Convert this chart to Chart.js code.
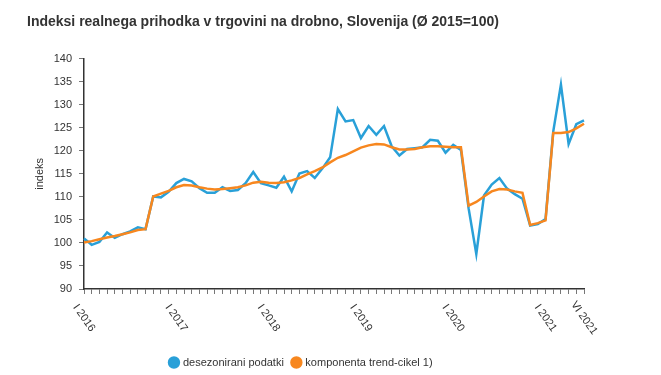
<!DOCTYPE html>
<html>
<head>
<meta charset="utf-8">
<script src="https://cdn.jsdelivr.net/npm/chart.js@4"></script>
<style>
  html, body { margin: 0; padding: 0; background: #fff; }
  #wrap { width: 661px; height: 375px; }
</style>
</head>
<body>
<div id="wrap"><canvas id="chart" width="661" height="375"></canvas></div>
<script>
// --- Data ---
const MONTHS = ['I', 'II', 'III', 'IV', 'V', 'VI', 'VII', 'VIII', 'IX', 'X', 'XI', 'XII'];
const YEARS = [2016, 2017, 2018, 2019, 2020, 2021];
const SHOWN_LABELS = ['I 2016', 'I 2017', 'I 2018', 'I 2019', 'I 2020', 'I 2021', 'VI 2021'];

const seasonAdjusted = [
  101.0, 99.6, 100.2, 102.3, 101.1, 101.9, 102.5, 103.4, 103.0, 110.1, 109.9, 111.1,
  113.0, 113.9, 113.4, 111.9, 110.9, 110.9, 112.1, 111.3, 111.5, 113.0, 115.4, 113.0,
  112.5, 112.0, 114.4, 111.2, 115.1, 115.6, 114.1, 116.2, 118.6, 129.1, 126.4, 126.7,
  122.8, 125.4, 123.5, 125.4, 121.0, 119.0, 120.4, 120.6, 120.8, 122.4, 122.2, 119.6,
  121.3, 120.2, 107.5, 97.6, 110.3, 112.7, 114.1, 111.8, 110.6, 109.6, 103.8, 104.1,
  105.2, 124.2, 134.4, 121.5, 125.8, 126.6
];
const trendCycle = [
  100.1, 100.4, 100.8, 101.2, 101.5, 101.9, 102.3, 102.8, 103.0, 110.1, 110.7, 111.3,
  112.1, 112.6, 112.5, 112.1, 111.8, 111.6, 111.7, 111.9, 112.1, 112.5, 113.1, 113.3,
  113.1, 113.0, 113.2, 113.6, 114.1, 114.9, 115.6, 116.4, 117.5, 118.5, 119.1, 119.9,
  120.7, 121.2, 121.5, 121.4, 120.8, 120.3, 120.3, 120.4, 120.8, 121.0, 121.0, 120.9,
  120.8, 120.8, 108.1, 108.9, 110.1, 111.2, 111.7, 111.6, 111.2, 110.9, 103.9, 104.3,
  104.9, 123.9, 123.9, 124.1, 124.9, 125.9
];

const BLUE = '#29a0d8';
const ORANGE = '#f7871f';
const TEXT = '#333333';
const FONT = "'Liberation Sans', Arial, sans-serif";

const labels = [];
YEARS.forEach((y) => MONTHS.forEach((m) => labels.push(m + ' ' + y)));
labels.length = seasonAdjusted.length;

// --- Rotated x labels (clockwise, centred on the tick) ---
const xLabelPlugin = {
  id: 'xLabels',
  afterLayout(chart) {
    // legend sits a little left of centre in the original
    chart.legend.left -= 4;
    chart.legend.right -= 4;
  },
  afterDraw(chart) {
    const scale = chart.scales.x;
    const ctx = chart.ctx;
    ctx.save();
    ctx.font = '11px ' + FONT;
    ctx.fillStyle = TEXT;
    ctx.textAlign = 'center';
    ctx.textBaseline = 'middle';
    labels.forEach((lab, i) => {
      if (!SHOWN_LABELS.includes(lab)) return;
      ctx.save();
      ctx.translate(scale.getPixelForValue(i), scale.top + 29);
      ctx.rotate(55 * Math.PI / 180);
      ctx.fillText(lab, 0, 0);
      ctx.restore();
    });
    ctx.restore();
  },
};

new Chart(document.getElementById('chart'), {
  type: 'line',
  data: {
    labels,
    datasets: [
      {
        label: 'desezonirani podatki',
        data: seasonAdjusted,
        borderColor: BLUE,
        backgroundColor: BLUE,
        borderWidth: 2.5,
        pointRadius: 0,
        tension: 0,
        order: 1,
      },
      {
        label: 'komponenta trend-cikel 1)',
        data: trendCycle,
        borderColor: ORANGE,
        backgroundColor: ORANGE,
        borderWidth: 2.5,
        pointRadius: 0,
        tension: 0,
        order: 0,
      },
    ],
  },
  options: {
    responsive: false,
    animation: false,
    layout: { padding: { top: 0, left: 27, right: 77, bottom: -3 } },
    plugins: {
      title: {
        display: true,
        text: 'Indeksi realnega prihodka v trgovini na drobno, Slovenija (Ø 2015=100)',
        align: 'start',
        color: TEXT,
        font: { family: FONT, size: 14, weight: 'bold' },
        padding: { top: 14, bottom: 28 },
      },
      legend: {
        position: 'bottom',
        labels: {
          usePointStyle: true,
          pointStyle: 'circle',
          boxHeight: 7,
          boxWidth: 7,
          padding: 9,
          color: TEXT,
          font: { family: FONT, size: 11 },
          sort: (a, b) => a.datasetIndex - b.datasetIndex,
        },
      },
      tooltip: { enabled: false },
    },
    scales: {
      x: {
        grid: { drawOnChartArea: false, drawTicks: true, tickLength: 5, color: '#777' },
        border: { color: '#333', width: 1.5 },
        ticks: { display: false, autoSkip: false },
        afterFit: (scale) => { scale.height = 59; },
      },
      y: {
        min: 90,
        max: 140,
        grid: { drawOnChartArea: false, drawTicks: true, tickLength: 5, color: '#777' },
        border: { color: '#333', width: 1.5 },
        ticks: { stepSize: 5, padding: 7, color: TEXT, font: { family: FONT, size: 11 } },
        title: {
          display: true,
          text: 'indeks',
          color: TEXT,
          font: { family: FONT, size: 11 },
          padding: { top: 6, bottom: 0 },
        },
        afterFit: (scale) => { scale.width = 57; },
      },
    },
  },
  plugins: [xLabelPlugin],
});
</script>
</body>
</html>
